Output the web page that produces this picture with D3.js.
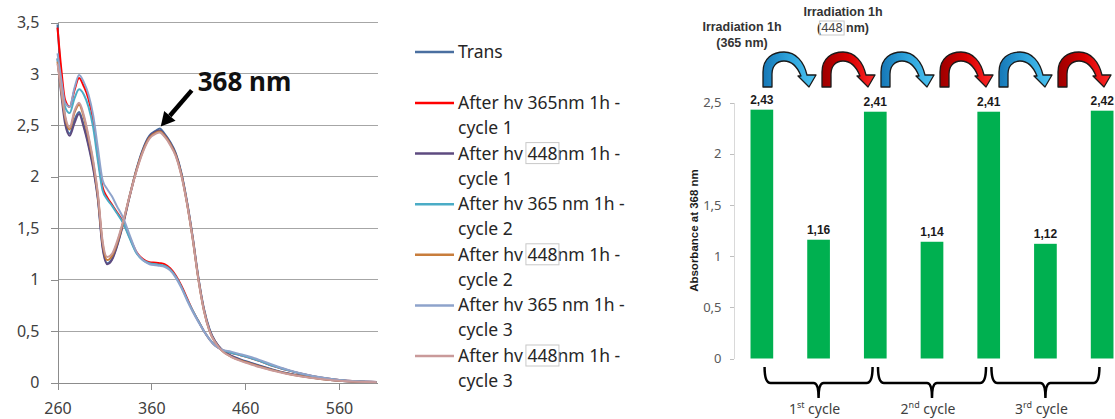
<!DOCTYPE html>
<html lang="en">
<head>
  <meta charset="UTF-8">
  <title>Trans / cis switching at 368 nm</title>
  <script src="https://d3js.org/d3.v7.min.js"></script>
  <style>
    body { margin: 0; background: #fff; }
    svg { display: block; font-family: "Noto Sans", sans-serif; }
    .axisL text { fill: #404040; font-size: 16px; font-family: "Noto Sans", sans-serif; }
    .axisL path, .axisL line { stroke: #8c8c8c; shape-rendering: crispEdges; }
    .grid line { stroke: #a6a6a6; shape-rendering: crispEdges; }
    .axisR text { fill: #595959; font-size: 13px; font-family: "Noto Sans", sans-serif; }
    .axisR path { stroke: #d9d9d9; shape-rendering: crispEdges; }
    .axisR line { stroke: #bfbfbf; shape-rendering: crispEdges; }
    .bold { font-family: "Liberation Sans", Arial, sans-serif; font-weight: bold; }
  </style>
</head>
<body>
<svg id="chart" width="1115" height="419"></svg>
<script>
// ---- spectra (left) ----
const wavelengths = [260,264,268,273,278,283,288,293,298,303,308,313,318,323,330,337,344,351,358,365,369,374,380,386,392,398,404,410,416,422,428,435,445,455,465,475,490,505,520,540,560,580,600];
const trans      = [3.48,2.95,2.58,2.42,2.55,2.63,2.50,2.32,2.10,1.80,1.33,1.16,1.20,1.32,1.55,1.82,2.07,2.27,2.40,2.45,2.47,2.42,2.34,2.23,2.04,1.76,1.42,1.03,0.72,0.52,0.40,0.32,0.26,0.225,0.195,0.165,0.125,0.09,0.065,0.038,0.018,0.008,0.004];
const uv365c1    = [3.45,3.05,2.75,2.68,2.84,2.96,2.88,2.76,2.55,2.20,1.90,1.80,1.73,1.66,1.56,1.41,1.27,1.20,1.17,1.165,1.16,1.15,1.11,1.04,0.94,0.82,0.70,0.60,0.50,0.42,0.36,0.32,0.29,0.265,0.24,0.21,0.16,0.12,0.085,0.048,0.024,0.011,0.005];
const vis448c1   = [3.15,2.80,2.52,2.40,2.52,2.61,2.48,2.30,2.08,1.78,1.31,1.15,1.19,1.31,1.54,1.81,2.06,2.26,2.39,2.44,2.45,2.41,2.33,2.22,2.03,1.75,1.41,1.02,0.71,0.51,0.40,0.32,0.26,0.22,0.19,0.16,0.12,0.088,0.063,0.036,0.017,0.008,0.004];
const uv365c2    = [3.15,2.90,2.68,2.62,2.76,2.85,2.80,2.68,2.48,2.16,1.87,1.78,1.72,1.65,1.55,1.40,1.26,1.19,1.16,1.15,1.145,1.135,1.10,1.03,0.93,0.81,0.70,0.60,0.50,0.42,0.36,0.32,0.29,0.265,0.24,0.21,0.16,0.12,0.085,0.048,0.024,0.011,0.005];
const vis448c2   = [3.12,2.84,2.58,2.46,2.62,2.70,2.58,2.38,2.14,1.82,1.36,1.19,1.23,1.34,1.56,1.82,2.06,2.25,2.38,2.43,2.44,2.40,2.32,2.21,2.02,1.74,1.40,1.01,0.70,0.50,0.39,0.31,0.25,0.215,0.185,0.155,0.118,0.085,0.06,0.035,0.017,0.008,0.004];
const uv365c3    = [3.20,2.95,2.72,2.68,2.86,2.99,2.92,2.80,2.60,2.28,1.97,1.88,1.81,1.72,1.60,1.43,1.27,1.19,1.15,1.14,1.135,1.125,1.09,1.02,0.92,0.80,0.69,0.59,0.50,0.42,0.36,0.32,0.30,0.275,0.25,0.22,0.17,0.125,0.088,0.05,0.025,0.012,0.005];
const vis448c3   = [3.10,2.85,2.60,2.48,2.64,2.72,2.60,2.40,2.16,1.84,1.38,1.22,1.25,1.36,1.57,1.82,2.05,2.24,2.37,2.42,2.43,2.39,2.31,2.20,2.01,1.74,1.40,1.01,0.70,0.50,0.39,0.31,0.25,0.21,0.18,0.15,0.115,0.083,0.058,0.034,0.016,0.007,0.003];

const spectra = [trans, uv365c1, vis448c1, uv365c2, vis448c2, uv365c3, vis448c3];
const spectraColors = ["#4a6fa0", "#ff0000", "#5e4b80", "#4bacc6", "#c87d3c", "#8ea3cb", "#c99a9a"];
const legendLine1 = ["Trans", "After hv 365nm 1h -", "After hv 448nm 1h -", "After hv 365 nm 1h -", "After hv 448nm 1h -", "After hv 365 nm 1h -", "After hv 448nm 1h -"];
const legendLine2 = ["", "cycle 1", "cycle 1", "cycle 2", "cycle 2", "cycle 3", "cycle 3"];
const xTicksL = [260, 360, 460, 560];
const yTicksL = [0, 0.5, 1, 1.5, 2, 2.5, 3, 3.5];

// ---- bars (right) ----
const barValues = [2.43, 1.16, 2.41, 1.14, 2.41, 1.12, 2.42];
const yTicksR = [0, 0.5, 1, 1.5, 2, 2.5];
const arrowKinds = ["365", "448", "365", "448", "365", "448"];
const cycleNums = ["1", "2", "3"];
const cycleSups = ["st", "nd", "rd"];

const comma = d => String(d).replace(".", ",");
const fmt2 = d => d.toFixed(2).replace(".", ",");

const svg = d3.select("#chart");

// ================= left: spectra =================
const xL = d3.scaleLinear().domain([260, 601]).range([57.5, 377.5]);
const yL = d3.scaleLinear().domain([0, 3.5]).range([382.5, 22.5]);

svg.append("g").attr("class", "grid")
  .selectAll("line").data(yTicksL.filter(d => d > 0)).enter().append("line")
  .attr("x1", xL(260)).attr("x2", xL(601))
  .attr("y1", d => yL(d)).attr("y2", d => yL(d));

svg.append("g").attr("class", "axisL")
  .attr("transform", "translate(0," + yL(0) + ")")
  .call(d3.axisBottom(xL).tickValues(xTicksL).tickSize(7).tickSizeOuter(0).tickPadding(13));

svg.append("g").attr("class", "axisL")
  .attr("transform", "translate(" + xL(260) + ",0)")
  .call(d3.axisLeft(yL).tickValues(yTicksL).tickSize(7).tickSizeOuter(0).tickPadding(11).tickFormat(comma));

const line = d3.line()
  .x((d, i) => xL(wavelengths[i]))
  .y(d => yL(d))
  .curve(d3.curveMonotoneX);

svg.append("g").selectAll("path").data(spectra).enter().append("path")
  .attr("d", line)
  .attr("fill", "none")
  .attr("stroke", (d, i) => spectraColors[i])
  .attr("stroke-width", 2);

// "368 nm" callout
const tip = [xL(370), yL(2.49)];
const tail = [tip[0] + 31, tip[1] - 36];
const ang = Math.atan2(tip[1] - tail[1], tip[0] - tail[0]);
const headLen = 14, headW = 7.5;
const base = [tip[0] - headLen * Math.cos(ang), tip[1] - headLen * Math.sin(ang)];
svg.append("line")
  .attr("x1", tail[0]).attr("y1", tail[1]).attr("x2", base[0]).attr("y2", base[1])
  .attr("stroke", "#000").attr("stroke-width", 4.5);
svg.append("path")
  .attr("d", d3.line()([
    tip,
    [base[0] + headW * Math.sin(ang), base[1] - headW * Math.cos(ang)],
    [base[0] - headW * Math.sin(ang), base[1] + headW * Math.cos(ang)]
  ]) + "Z")
  .attr("fill", "#000");
svg.append("text")
  .attr("x", tail[0] + 6).attr("y", 91)
  .attr("font-size", 26).attr("font-weight", "bold").attr("fill", "#111")
  .text("368 nm");

// legend
function boxDigits(textNode, start, len, g) {
  const a = textNode.getExtentOfChar(start);
  const b = textNode.getExtentOfChar(start + len - 1);
  g.append("rect")
    .attr("x", a.x - 1.5).attr("y", a.y + 2)
    .attr("width", b.x + b.width - a.x + 3).attr("height", a.height - 3)
    .attr("fill", "none").attr("stroke", "#c8c8c8").attr("stroke-width", 1);
}

const legend = svg.append("g");
legendLine1.forEach((t, i) => {
  const y = i === 0 ? 52 : 103 + (i - 1) * 50.6;
  legend.append("line")
    .attr("x1", 415).attr("x2", 454).attr("y1", y).attr("y2", y)
    .attr("stroke", spectraColors[i]).attr("stroke-width", 2.5);
  const txt = legend.append("text")
    .attr("x", 458).attr("y", y + 6)
    .attr("font-size", 17.5).attr("fill", "#262626")
    .text(t);
  const k = t.indexOf("448");
  if (k >= 0) boxDigits(txt.node(), k, 3, legend);
  if (legendLine2[i]) {
    legend.append("text")
      .attr("x", 458).attr("y", y + 31)
      .attr("font-size", 17.5).attr("fill", "#262626")
      .text(legendLine2[i]);
  }
});

// ================= right: bar chart =================
const xR = d3.scaleBand().domain(d3.range(barValues.length))
  .range([733.5, 1130.5]).paddingInner(0.6).paddingOuter(0.3);
const yR = d3.scaleLinear().domain([0, 2.5]).range([358.5, 102.5]);
const cx = i => xR(i) + xR.bandwidth() / 2;

svg.append("g").attr("class", "axisR")
  .attr("transform", "translate(733.5,0)")
  .call(d3.axisLeft(yR).tickValues(yTicksR).tickSize(4).tickSizeOuter(0).tickPadding(8).tickFormat(comma));

svg.append("text")
  .attr("class", "bold")
  .attr("transform", "translate(698," + yR(1.25) + ") rotate(-90)")
  .attr("text-anchor", "middle").attr("font-size", 11.5).attr("fill", "#1a1a1a")
  .text("Absorbance at 368 nm");

svg.append("g").selectAll("rect").data(barValues).enter().append("rect")
  .attr("x", (d, i) => xR(i))
  .attr("y", d => yR(d))
  .attr("width", xR.bandwidth())
  .attr("height", d => yR(0) - yR(d))
  .attr("fill", "#00b050");

svg.append("g").selectAll("text").data(barValues).enter().append("text")
  .attr("class", "bold")
  .attr("x", (d, i) => cx(i))
  .attr("y", d => yR(d) - 6)
  .attr("text-anchor", "middle").attr("font-size", 12).attr("fill", "#1a1a1a")
  .text(fmt2);

// braces + cycle labels
const braceTop = 367, braceMid = 383, braceTip = 398;
cycleNums.forEach((n, k) => {
  const c = cx(2 * k + 1), a = c - 54, b = c + 54;
  const p = d3.path();
  p.moveTo(a, braceTop);
  p.quadraticCurveTo(a, braceMid, a + 6, braceMid);
  p.lineTo(c - 5, braceMid);
  p.quadraticCurveTo(c, braceMid, c, braceTip);
  p.moveTo(b, braceTop);
  p.quadraticCurveTo(b, braceMid, b - 6, braceMid);
  p.lineTo(c + 5, braceMid);
  p.quadraticCurveTo(c, braceMid, c, braceTip);
  svg.append("path").attr("d", p.toString())
    .attr("fill", "none").attr("stroke", "#000").attr("stroke-width", 2.5);

  const t = svg.append("text")
    .attr("x", c - 4).attr("y", 414)
    .attr("text-anchor", "middle").attr("font-size", 14).attr("fill", "#404040");
  t.append("tspan").text(n);
  t.append("tspan").attr("font-size", 9).attr("dy", -6).text(cycleSups[k]);
  t.append("tspan").attr("dy", 6).text(" cycle");
});

// curved irradiation arrows
const defs = svg.append("defs");
[["g365", "#1677b6", "#2ea4dc", "#4cc3f0"], ["g448", "#9c0000", "#d80000", "#ff2a2a"]].forEach(g => {
  const lg = defs.append("linearGradient").attr("id", g[0]).attr("x1", 0).attr("x2", 1).attr("y1", 0).attr("y2", 0);
  lg.append("stop").attr("offset", 0).attr("stop-color", g[1]);
  lg.append("stop").attr("offset", 0.5).attr("stop-color", g[2]);
  lg.append("stop").attr("offset", 1).attr("stop-color", g[3]);
});
const arrowShape = "M0,0 L0,-15 C0,-29 10,-35 21,-35 C33,-35 41,-25 44,-12 L53,-12 L46,0 L35,-11 L38,-11 " +
                   "C34,-21 28,-26 21,-26 C13,-26 9,-20 9,-13 L9,0 Z";
const arrowX = d3.scaleLinear().domain([0, arrowKinds.length - 1]).range([763, 1058]);
svg.append("g").selectAll("path").data(arrowKinds).enter().append("path")
  .attr("d", arrowShape)
  .attr("transform", (d, i) => "translate(" + arrowX(i) + ",87)")
  .attr("fill", d => d === "365" ? "url(#g365)" : "url(#g448)")
  .attr("stroke", "#1a1a1a").attr("stroke-width", 1.3).attr("stroke-linejoin", "round");

// irradiation labels
const lab1 = svg.append("g").attr("class", "bold").attr("font-size", 12.5).attr("fill", "#333").attr("text-anchor", "middle");
lab1.append("text").attr("x", arrowX(0) - 21).attr("y", 31).text("Irradiation 1h");
lab1.append("text").attr("x", arrowX(0) - 21).attr("y", 47).text("(365 nm)");
lab1.append("text").attr("x", arrowX(1) + 21).attr("y", 16).text("Irradiation 1h");
const t448 = lab1.append("text").attr("x", arrowX(1) + 21).attr("y", 32);
t448.append("tspan").text("(");
t448.append("tspan").attr("font-weight", "normal").attr("font-family", "Noto Sans, sans-serif").attr("fill", "#444").text("448");
t448.append("tspan").text(" nm)");
boxDigits(t448.node(), 1, 3, lab1);
</script>
</body>
</html>
